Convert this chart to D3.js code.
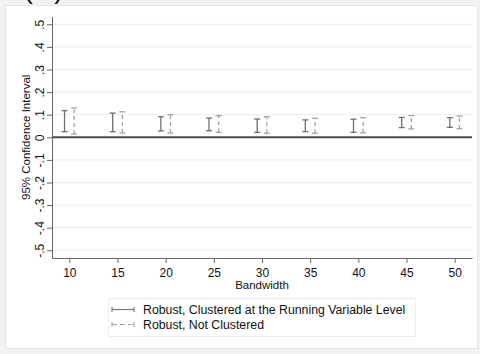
<!DOCTYPE html>
<html>
<head>
<meta charset="utf-8">
<script src="https://cdn.jsdelivr.net/npm/d3@7"></script>
<style>
  html, body { margin: 0; padding: 0; background: #f2f2f2; }
  svg { display: block; font-family: "Liberation Sans", Arial, sans-serif; }
</style>
</head>
<body>
<svg id="chart" width="480" height="354"></svg>
<script>
// Bandwidths and 95% confidence bounds for the two standard-error variants
const bandwidths = [10, 15, 20, 25, 30, 35, 40, 45, 50];
const clusteredLow  = [0.025, 0.025, 0.028, 0.029, 0.022, 0.025, 0.022, 0.043, 0.044];
const clusteredHigh = [0.118, 0.107, 0.091, 0.085, 0.081, 0.077, 0.080, 0.088, 0.087];
const robustLow     = [0.015, 0.019, 0.019, 0.022, 0.018, 0.018, 0.020, 0.037, 0.038];
const robustHigh    = [0.130, 0.113, 0.100, 0.096, 0.091, 0.084, 0.087, 0.096, 0.094];
const yTicks = [-0.5, -0.4, -0.3, -0.2, -0.1, 0, 0.1, 0.2, 0.3, 0.4, 0.5];
const yTickLabels = ["-.5", "-.4", "-.3", "-.2", "-.1", "0", ".1", ".2", ".3", ".4", ".5"];
const seriesNames = ["Robust, Clustered at the Running Variable Level", "Robust, Not Clustered"];

const svg = d3.select("#chart");

// graph region
svg.append("rect").attr("x", 5.5).attr("y", 5.5).attr("width", 472).attr("height", 343)
  .attr("fill", "#ffffff").attr("stroke", "#e4e4e4");

// panel letter, sitting above the graph region
svg.append("text").attr("x", 45).attr("y", -2).attr("text-anchor", "middle")
  .attr("font-size", 28).attr("letter-spacing", 3).attr("fill", "#111").text("(a)");

const plotLeft = 52, plotRight = 472, plotTop = 16, plotBottom = 258;

const x = d3.scaleLinear().domain([8.2, 51.8]).range([plotLeft, plotRight]);
const y = d3.scaleLinear().domain([-0.535, 0.535]).range([258.2, 16.4]);

// horizontal grid
svg.append("g").selectAll("line").data(yTicks.filter(d => d !== 0)).join("line")
  .attr("x1", plotLeft).attr("x2", plotRight)
  .attr("y1", d => y(d)).attr("y2", d => y(d))
  .attr("stroke", "#ececec").attr("stroke-width", 1);

// zero reference line
svg.append("line").attr("x1", plotLeft).attr("x2", plotRight)
  .attr("y1", y(0)).attr("y2", y(0))
  .attr("stroke", "#4a4a4a").attr("stroke-width", 2);

// y axis with vertical tick labels
const yAxis = d3.axisLeft(y).tickValues(yTicks)
  .tickFormat((d, i) => yTickLabels[i]).tickSize(5).tickSizeOuter(0);
const gy = svg.append("g").attr("transform", `translate(${plotLeft},0)`).call(yAxis);
gy.select(".domain").attr("stroke", "#666");
gy.selectAll(".tick line").attr("stroke", "#666");
gy.selectAll(".tick text")
  .attr("font-size", 12).attr("fill", "#111")
  .attr("transform", "rotate(-90, -8.5, 0)")
  .attr("x", -8.5).attr("y", 0).attr("dy", "0")
  .attr("text-anchor", "middle");

// x axis
const xAxis = d3.axisBottom(x).tickValues(bandwidths).tickSize(5).tickSizeOuter(0);
const gx = svg.append("g").attr("transform", `translate(0,${plotBottom})`).call(xAxis);
gx.select(".domain").attr("stroke", "#666");
gx.selectAll(".tick line").attr("stroke", "#666");
gx.selectAll(".tick text").attr("font-size", 12).attr("fill", "#111").attr("y", 10.5);

// axis titles
svg.append("text").attr("x", (plotLeft + plotRight) / 2).attr("y", 289)
  .attr("text-anchor", "middle").attr("font-size", 11.5).attr("fill", "#111").text("Bandwidth");
svg.append("text").attr("transform", `translate(29.5,${y(0)}) rotate(-90)`)
  .attr("text-anchor", "middle").attr("font-size", 11.5).attr("fill", "#111")
  .text("95% Confidence Interval");

// confidence-interval capped spikes
function drawSpikes(lows, highs, offset, color, dash) {
  const g = svg.append("g");
  bandwidths.forEach((b, i) => {
    const cx = x(b + offset);
    g.append("line").attr("x1", cx).attr("x2", cx)
      .attr("y1", y(lows[i])).attr("y2", y(highs[i]))
      .attr("stroke", color).attr("stroke-width", 1.3)
      .attr("stroke-dasharray", dash);
    [lows[i], highs[i]].forEach(v => {
      g.append("line").attr("x1", cx - 3).attr("x2", cx + 3)
        .attr("y1", y(v)).attr("y2", y(v))
        .attr("stroke", color).attr("stroke-width", 1.3);
    });
  });
}
drawSpikes(clusteredLow, clusteredHigh, -0.5, "#6f6f6f", null);
drawSpikes(robustLow, robustHigh, 0.5, "#a3a3a3", "4,3");

// legend
const lg = svg.append("g");
lg.append("rect").attr("x", 108.5).attr("y", 298.5).attr("width", 307).attr("height", 38)
  .attr("fill", "#fff").attr("stroke", "#ececec");
const legendRows = [
  { name: seriesNames[0], color: "#7a7a7a", dash: null, y: 309.5, ty: 313.8 },
  { name: seriesNames[1], color: "#a3a3a3", dash: "5,3", y: 324.5, ty: 328.8 }
];
legendRows.forEach(r => {
  lg.append("line").attr("x1", 112).attr("x2", 134).attr("y1", r.y).attr("y2", r.y)
    .attr("stroke", r.color).attr("stroke-width", 1.2).attr("stroke-dasharray", r.dash);
  [112, 134].forEach(px => lg.append("line").attr("x1", px).attr("x2", px)
    .attr("y1", r.y - 2.5).attr("y2", r.y + 2.5).attr("stroke", r.color).attr("stroke-width", 1.2));
  lg.append("text").attr("x", 143).attr("y", r.ty).attr("font-size", 12.3)
    .attr("fill", "#111").text(r.name);
});
</script>
</body>
</html>
